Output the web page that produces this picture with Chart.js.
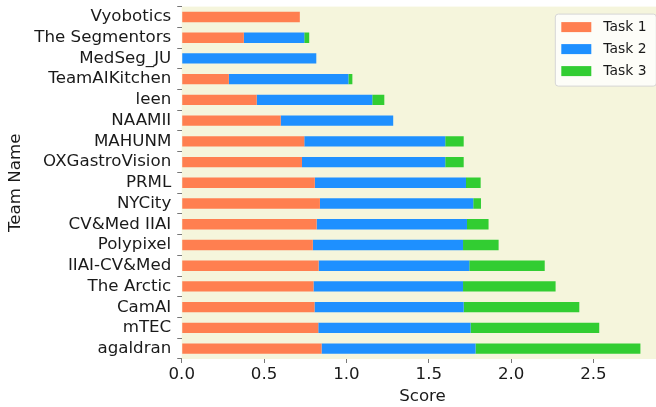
<!DOCTYPE html>
<html>
<head>
<meta charset="utf-8">
<script src="https://cdn.jsdelivr.net/npm/chart.js@4"></script>
<style>
  html, body { margin: 0; padding: 0; overflow: hidden; background: #fff; }
  #wrap { width: 664px; height: 407px; }
</style>
</head>
<body>
<div id="wrap"><canvas id="grafica"></canvas></div>
<script>
// teams, bottom to top
var equipos = ["agaldran", "mTEC", "CamAI", "The Arctic", "IIAI-CV&Med", "Polypixel",
    "CV&Med IIAI", "NYCity", "PRML", "OXGastroVision", "MAHUNM", "NAAMII", "leen",
    "TeamAIKitchen", "MedSeg_JU", "The Segmentors", "Vyobotics"];
var tarea1 = [0.849, 0.829, 0.806, 0.800, 0.831, 0.796, 0.819, 0.839, 0.808, 0.730, 0.744, 0.601, 0.455, 0.286, 0.0, 0.377, 0.717];
var tarea2 = [0.935, 0.925, 0.906, 0.908, 0.915, 0.912, 0.913, 0.931, 0.918, 0.870, 0.856, 0.683, 0.702, 0.726, 0.817, 0.367, 0.0];
var tarea3 = [1.001, 0.781, 0.702, 0.562, 0.458, 0.216, 0.131, 0.047, 0.089, 0.112, 0.112, 0.0, 0.073, 0.024, 0.0, 0.030, 0.0];
var nombresTareas = ["Task 1", "Task 2", "Task 3"];
var colores = ["#ff7f50", "#1e90ff", "#32cd32"];
var ticksX = [0, 0.5, 1.0, 1.5, 2.0, 2.5];

var fuente = "'DejaVu Sans', sans-serif";

var fondo = {
    id: "fondo",
    beforeDraw: function(chart) {
        var a = chart.chartArea, ctx = chart.ctx;
        ctx.save();
        ctx.fillStyle = "#f5f5dc";
        ctx.fillRect(a.left, a.top, a.right - a.left, a.bottom - a.top);
        ctx.restore();
    }
};

// matplotlib-like legend box in the upper right
var leyenda = {
    id: "leyenda",
    afterDraw: function(chart) {
        var a = chart.chartArea, ctx = chart.ctx;
        var x = a.right - 108, y = a.top + 7.5, w = 101, h = 72;
        ctx.save();
        ctx.beginPath();
        ctx.roundRect(x, y, w, h, 3);
        ctx.fillStyle = "rgba(255,255,255,0.8)";
        ctx.fill();
        ctx.strokeStyle = "#d6d6d6";
        ctx.lineWidth = 1;
        ctx.stroke();
        ctx.font = "13.9px " + fuente;
        ctx.textBaseline = "middle";
        chart.data.datasets.forEach(function(ds, i) {
            var cy = y + 13 + i * 22;
            ctx.fillStyle = ds.backgroundColor;
            ctx.fillRect(x + 6, cy - 5, 30, 10);
            ctx.fillStyle = "#1a1a1a";
            ctx.fillText(ds.label, x + 48, cy);
        });
        ctx.restore();
    }
};

var datasets = [tarea1, tarea2, tarea3].map(function(valores, i) {
    return {
        label: nombresTareas[i],
        data: valores,
        backgroundColor: colores[i],
        borderWidth: 0,
        barPercentage: 0.5,
        categoryPercentage: 1.0
    };
});

var ctx = document.getElementById("grafica").getContext("2d");
var grafica = new Chart(ctx, {
    type: "bar",
    data: { labels: equipos, datasets: datasets },
    plugins: [fondo, leyenda],
    options: {
        indexAxis: "y",
        responsive: true,
        maintainAspectRatio: false,
        animation: false,
        layout: { padding: { left: 6, right: 0.7, top: 6.6, bottom: 0 } },
        plugins: {
            legend: { display: false },
            tooltip: { enabled: false }
        },
        scales: {
            x: {
                stacked: true,
                min: 0,
                max: 2.924,
                afterBuildTicks: function(escala) {
                    escala.ticks = ticksX.map(function(v) { return { value: v }; });
                },
                border: { display: false },
                grid: { drawOnChartArea: false, tickLength: 4, color: "#777", tickWidth: 1 },
                ticks: {
                    color: "#1a1a1a",
                    font: { family: fuente, size: 16.67 },
                    padding: 2,
                    maxRotation: 0,
                    callback: function(v) { return Number(v).toFixed(1); }
                },
                title: {
                    display: true, text: "Score", color: "#1a1a1a",
                    font: { family: fuente, size: 16.67 }, padding: { top: 0, bottom: 0 }
                }
            },
            y: {
                stacked: true,
                reverse: true,
                afterFit: function(escala) {
                    escala.paddingTop = 0;
                    escala.paddingBottom = 0;
                },
                border: { display: false },
                grid: { drawOnChartArea: false, tickLength: 4.5, color: "#777", tickWidth: 1 },
                ticks: {
                    color: "#1a1a1a",
                    font: { family: fuente, size: 16.67 },
                    padding: 6,
                    autoSkip: false
                },
                title: {
                    display: true, text: "Team Name", color: "#1a1a1a",
                    font: { family: fuente, size: 16.67 }, padding: { top: 0, bottom: 2.3 }
                }
            }
        }
    }
});
</script>
</body>
</html>
